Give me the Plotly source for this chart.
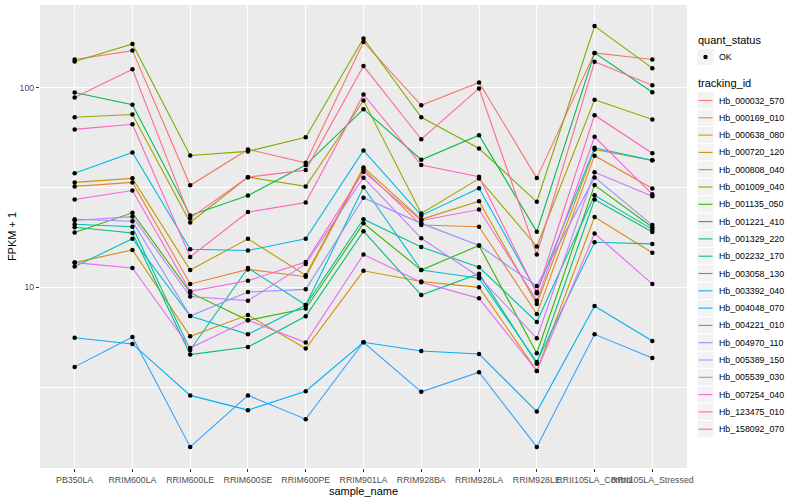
import numpy as np
import plotly.graph_objects as go

# ---------------- data ----------------
samples = ["PB350LA", "RRIM600LA", "RRIM600LE", "RRIM600SE", "RRIM600PE",
           "RRIM901LA", "RRIM928BA", "RRIM928LA", "RRIM928LE",
           "RRII105LA_Control", "RRII105LA_Stressed"]

tracking_ids = ["Hb_000032_570", "Hb_000169_010", "Hb_000638_080", "Hb_000720_120",
                "Hb_000808_040", "Hb_001009_040", "Hb_001135_050", "Hb_001221_410",
                "Hb_001329_220", "Hb_002232_170", "Hb_003058_130", "Hb_003392_040",
                "Hb_004048_070", "Hb_004221_010", "Hb_004970_110", "Hb_005389_150",
                "Hb_005539_030", "Hb_007254_040", "Hb_123475_010", "Hb_158092_070"]

# FPKM + 1 per sample (same order as `samples`)
hb_000032_570 = [138, 153, 32.4, 49.0, 42.0, 169, 81.5, 106, 35.2, 149, 138]
hb_000169_010 = [32.0, 33.5, 10.4, 12.3, 11.3, 38.9, 20.5, 20.1, 7.35, 45.6, 31.2]
hb_000638_080 = [13.3, 15.4, 5.69, 7.27, 4.94, 12.1, 10.7, 10.0, 3.82, 22.5, 14.9]
hb_000720_120 = [33.5, 35.1, 12.2, 17.5, 11.5, 39.8, 21.9, 27.0, 8.25, 49.0, 43.2]
hb_000808_040 = [71.0, 73.3, 21.1, 35.6, 32.0, 86.1, 23.4, 35.0, 16.0, 86.8, 69.2]
hb_001009_040 = [135, 165, 45.7, 47.9, 56.4, 176, 71.0, 49.5, 26.8, 203, 125]
hb_001135_050 = [18.8, 23.6, 9.41, 6.84, 7.83, 20.9, 12.2, 16.2, 4.68, 32.5, 20.0]
hb_001221_410 = [94.4, 81.9, 22.9, 28.8, 40.9, 77.9, 43.5, 57.7, 19.0, 149, 94.7]
hb_001329_220 = [20.0, 18.7, 4.61, 5.03, 7.16, 19.1, 9.15, 11.7, 4.15, 27.5, 18.9]
hb_002232_170 = [20.7, 20.1, 4.86, 12.5, 8.16, 21.9, 15.9, 12.6, 6.71, 28.9, 19.5]
hb_003058_130 = [12.7, 17.5, 7.19, 5.82, 8.16, 31.7, 12.2, 11.1, 4.23, 16.8, 16.5]
hb_003392_040 = [37.2, 47.3, 15.5, 15.3, 17.5, 48.4, 22.9, 31.3, 9.47, 49.9, 43.2]
hb_004048_070 = [5.6, 5.21, 2.88, 2.43, 3.02, 5.31, 4.8, 4.64, 2.39, 8.06, 5.39]
hb_004221_010 = [4.0, 5.64, 1.59, 2.88, 2.19, 5.31, 3.0, 3.76, 1.59, 5.82, 4.43]
hb_004970_110 = [21.9, 21.4, 7.19, 9.48, 9.77, 28.1, 20.9, 16.2, 10.15, 35.5, 20.5]
hb_005389_150 = [21.6, 22.6, 8.99, 8.58, 13.1, 35.4, 17.6, 11.3, 5.56, 37.7, 28.6]
hb_005539_030 = [13.3, 12.5, 4.97, 6.84, 5.29, 14.6, 10.6, 8.81, 3.82, 18.6, 10.4]
hb_007254_040 = [27.5, 30.5, 9.55, 10.8, 13.4, 37.9, 21.6, 24.5, 8.58, 56.7, 29.2]
hb_123475_010 = [61.7, 65.5, 14.2, 23.8, 26.6, 92.3, 40.9, 35.8, 9.33, 72.7, 46.9]
hb_158092_070 = [89.0, 123.5, 22.2, 35.6, 38.6, 128, 55.1, 98.9, 14.6, 134.5, 102.7]

quant_status = ["OK"]
y_tick_values = [10, 100]
y_tick_labels = ["10", "100"]
y_minor_values = [10 ** 0.5, 10 ** 1.5]

series = [hb_000032_570, hb_000169_010, hb_000638_080, hb_000720_120, hb_000808_040,
          hb_001009_040, hb_001135_050, hb_001221_410, hb_001329_220, hb_002232_170,
          hb_003058_130, hb_003392_040, hb_004048_070, hb_004221_010, hb_004970_110,
          hb_005389_150, hb_005539_030, hb_007254_040, hb_123475_010, hb_158092_070]

# ---------------- style ----------------
palette = ["#F8766D", "#EA8331", "#D89000", "#C09B00", "#A3A500", "#7CAE00", "#39B600",
           "#00BB4E", "#00BF7D", "#00C1A3", "#00BFC4", "#00BAE0", "#00B0F6", "#35A2FF",
           "#9590FF", "#C77CFF", "#E76BF3", "#FA62DB", "#FF62BC", "#FF6C91"]
FONT = "Liberation Sans, Arial, Helvetica, sans-serif"
W, H = 800, 500
ML, MR, MT, MB = 40, 113, 5, 32

fig = go.Figure()
for name, vals, col in zip(tracking_ids, series, palette):
    fig.add_trace(go.Scatter(x=samples, y=vals, mode="lines", name=name,
                             line=dict(color=col, width=1.1), showlegend=False,
                             hoverinfo="skip"))

all_x = [s for vals in series for s in samples]
all_y = [v for vals in series for v in vals]
fig.add_trace(go.Scatter(x=all_x, y=all_y, mode="markers", name=quant_status[0],
                         marker=dict(color="black", size=4.5), showlegend=False))

logs = np.log10(all_y)
span = logs.max() - logs.min()
yrange = [logs.min() - 0.05 * span, logs.max() + 0.05 * span]

# ---------------- ggplot-like legend (layout decoration) ----------------
pw, ph = W - ML - MR, H - MT - MB
def fx(px):
    return (px - ML) / pw
def fy(py):
    return (H - MB - py) / ph

annotations = []
shapes = []
KEY_L, KEY_R, TEXT_X = 697, 714, 716.5
STEP = 17.3

def key_box(cy):
    shapes.append(dict(type="rect", xref="paper", yref="paper",
                       x0=fx(KEY_L), x1=fx(KEY_R), y0=fy(cy + STEP / 2), y1=fy(cy - STEP / 2),
                       fillcolor="#F2F2F2", line=dict(color="white", width=1), layer="above"))

def label(text, px, py, size):
    annotations.append(dict(text=text, x=fx(px), y=fy(py), xref="paper", yref="paper",
                            xanchor="left", yanchor="middle", showarrow=False,
                            font=dict(size=size, color="black", family=FONT)))

# quant_status block
label("quant_status", 696, 40.5, 11)
key_box(57)
shapes.append(dict(type="circle", xref="paper", yref="paper",
                   x0=fx(703.3), x1=fx(707.7), y0=fy(59.2), y1=fy(54.8),
                   fillcolor="black", line=dict(color="black", width=0), layer="above"))
label(quant_status[0], TEXT_X, 57, 8.8)

# tracking_id block
label("tracking_id", 696, 83, 11)
first = 100.5
for i, (name, col) in enumerate(zip(tracking_ids, palette)):
    cy = first + i * STEP
    key_box(cy)
    shapes.append(dict(type="line", xref="paper", yref="paper",
                       x0=fx(KEY_L + 1.5), x1=fx(KEY_R - 1.5), y0=fy(cy), y1=fy(cy),
                       line=dict(color=col, width=1.1), layer="above"))
    label(name, TEXT_X, cy, 8.8)

fig.update_layout(
    width=W, height=H,
    margin=dict(l=ML, r=MR, t=MT, b=MB),
    paper_bgcolor="white", plot_bgcolor="#EBEBEB",
    font=dict(family=FONT, size=11, color="black"),
    showlegend=False,
    annotations=annotations, shapes=shapes,
    xaxis=dict(type="category", categoryorder="array", categoryarray=samples,
               range=[-0.6, len(samples) - 0.4], automargin=False,
               showgrid=True, gridcolor="white", gridwidth=1.1,
               zeroline=False, showline=False,
               ticks="outside", ticklen=3, tickcolor="#333333", tickwidth=1,
               tickangle=0, tickfont=dict(size=8.8, color="#4D4D4D"),
               title=dict(text="sample_name", font=dict(size=11), standoff=2)),
    yaxis=dict(type="log", range=yrange, automargin=False,
               tickvals=y_tick_values, ticktext=y_tick_labels,
               showgrid=True, gridcolor="white", gridwidth=1.1,
               minor=dict(tickvals=y_minor_values, showgrid=True, gridcolor="white",
                          gridwidth=0.55, ticks=""),
               zeroline=False, showline=False,
               ticks="outside", ticklen=3, tickcolor="#333333", tickwidth=1,
               tickfont=dict(size=8.8, color="#4D4D4D"),
               title=dict(text="FPKM + 1", font=dict(size=11), standoff=0)),
)

fig.write_html("out.html", config={"displayModeBar": False},
               post_script="document.body.style.margin='0px';document.body.style.padding='0px';")
